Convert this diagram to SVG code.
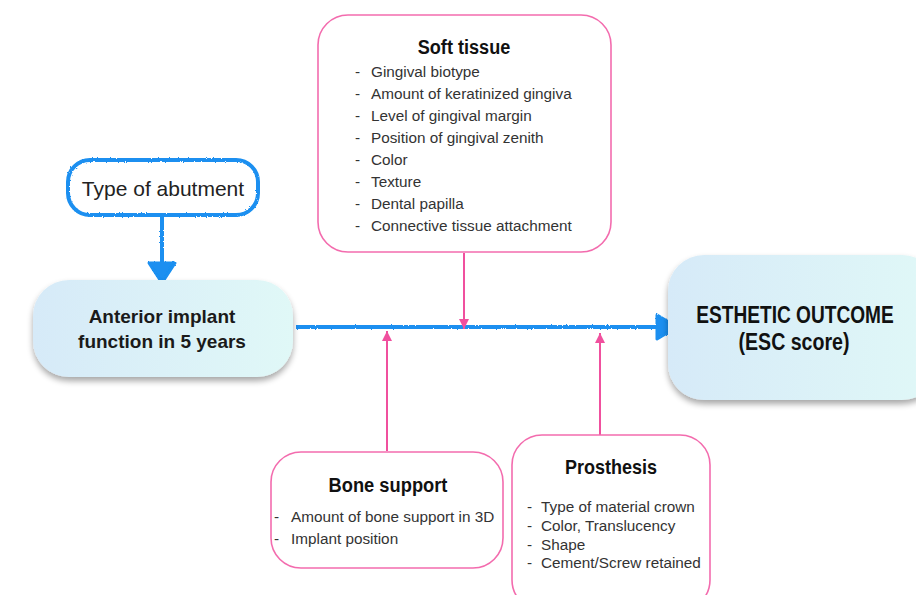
<svg xmlns="http://www.w3.org/2000/svg" width="916" height="595" viewBox="0 0 916 595">
<style>
.pink{fill:#fff;stroke:#f36cae;stroke-width:1.6}
.plink{stroke:#f0509e;stroke-width:2;fill:none}
.title{font-family:"Liberation Sans",sans-serif;font-weight:bold;fill:#111;text-anchor:middle}
.item{font-family:"Liberation Sans","Helvetica",sans-serif;font-size:15.3px;fill:#333}
.blue{fill:url(#bg)}
.sk{stroke:#1a8ff0;fill:none;filter:url(#rough)}
.skf{stroke:#1a8ff0;fill:#1a8ff0;filter:url(#rough);stroke-linejoin:round}
.mid{font-family:"Liberation Sans",sans-serif;font-weight:bold;fill:#1a1a1a;text-anchor:middle}
</style>
<defs>
<linearGradient id="bg" x1="0" y1="0" x2="1" y2="0">
<stop offset="0" stop-color="#d6eaf8"/>
<stop offset="1" stop-color="#e0f8f7"/>
</linearGradient>
<filter id="shadow" x="-10%" y="-10%" width="120%" height="130%">
<feGaussianBlur in="SourceAlpha" stdDeviation="3"/>
<feOffset dy="4"/>
<feComponentTransfer><feFuncA type="linear" slope="0.35"/></feComponentTransfer>
<feMerge><feMergeNode/><feMergeNode in="SourceGraphic"/></feMerge>
</filter>
<filter id="rough" filterUnits="userSpaceOnUse" x="0" y="0" width="916" height="595">
<feTurbulence type="fractalNoise" baseFrequency="0.8" numOctaves="2" seed="3"/>
<feDisplacementMap in="SourceGraphic" scale="2.5"/>
</filter>
<marker id="pa" viewBox="0 0 10 10" refX="10" refY="5" markerWidth="5" markerHeight="5" orient="auto">
<path d="M0,0 L10,5 L0,10 z" fill="#f0509e"/>
</marker>
</defs>

<g id="connectors">
<line class="sk" x1="296" y1="327" x2="660" y2="327" stroke-width="4"/>
<path class="skf" d="M657,315 L677,327 L657,339 z" stroke-width="3"/>
<line class="sk" x1="162" y1="216" x2="162" y2="266" stroke-width="4"/>
<path class="skf" d="M149,263 L175,263 L162,283 z" stroke-width="3"/>
<line class="plink" x1="464" y1="253" x2="464" y2="329" marker-end="url(#pa)"/>
<line class="plink" x1="387" y1="451" x2="387" y2="331" marker-end="url(#pa)"/>
<line class="plink" x1="600" y1="435" x2="600" y2="333" marker-end="url(#pa)"/>
</g>

<g id="soft-tissue">
<rect class="pink" x="318" y="15" width="293" height="237" rx="30"/>
<text class="title" font-size="19.5" transform="translate(464,54) scale(0.93,1)">Soft tissue</text>
<g class="item">
<text x="355" y="77">-</text><text x="371" y="77">Gingival biotype</text>
<text x="355" y="99">-</text><text x="371" y="99">Amount of keratinized gingiva</text>
<text x="355" y="121">-</text><text x="371" y="121">Level of gingival margin</text>
<text x="355" y="143">-</text><text x="371" y="143">Position of gingival zenith</text>
<text x="355" y="165">-</text><text x="371" y="165">Color</text>
<text x="355" y="187">-</text><text x="371" y="187">Texture</text>
<text x="355" y="209">-</text><text x="371" y="209">Dental papilla</text>
<text x="355" y="231">-</text><text x="371" y="231">Connective tissue attachment</text>
</g>
</g>

<g id="type-of-abutment">
<rect class="sk" x="68" y="160" width="190" height="55" rx="22" stroke-width="4" style="fill:#fff"/>
<text x="163" y="196" font-family="Liberation Sans,sans-serif" font-size="21" fill="#222" text-anchor="middle">Type of abutment</text>
</g>

<g id="anterior-implant">
<rect class="blue" x="33" y="280" width="260" height="97" rx="36" filter="url(#shadow)"/>
<text class="mid" x="162" y="323" font-size="19">Anterior implant</text>
<text class="mid" x="162" y="348" font-size="19">function in 5 years</text>
</g>

<g id="esthetic-outcome">
<rect class="blue" x="668" y="255" width="270" height="145" rx="36" filter="url(#shadow)"/>
<text class="title" font-size="24.5" transform="translate(795,323) scale(0.78,1)">ESTHETIC OUTCOME</text>
<text class="title" font-size="24.5" transform="translate(794,350) scale(0.8,1)">(ESC score)</text>
</g>

<g id="bone-support">
<rect class="pink" x="271" y="452" width="232" height="116" rx="30"/>
<text class="title" font-size="20" transform="translate(388,492) scale(0.915,1)">Bone support</text>
<g class="item">
<text x="274" y="522">-</text><text x="291" y="522">Amount of bone support in 3D</text>
<text x="274" y="544">-</text><text x="291" y="544">Implant position</text>
</g>
</g>

<g id="prosthesis">
<rect class="pink" x="512" y="435" width="198" height="175" rx="30"/>
<text class="title" font-size="20" transform="translate(611,474) scale(0.9,1)">Prosthesis</text>
<g class="item">
<text x="527" y="512">-</text><text x="541" y="512">Type of material crown</text>
<text x="527" y="531">-</text><text x="541" y="531">Color, Translucency</text>
<text x="527" y="550">-</text><text x="541" y="550">Shape</text>
<text x="527" y="568">-</text><text x="541" y="568">Cement/Screw retained</text>
</g>
</g>
</svg>
